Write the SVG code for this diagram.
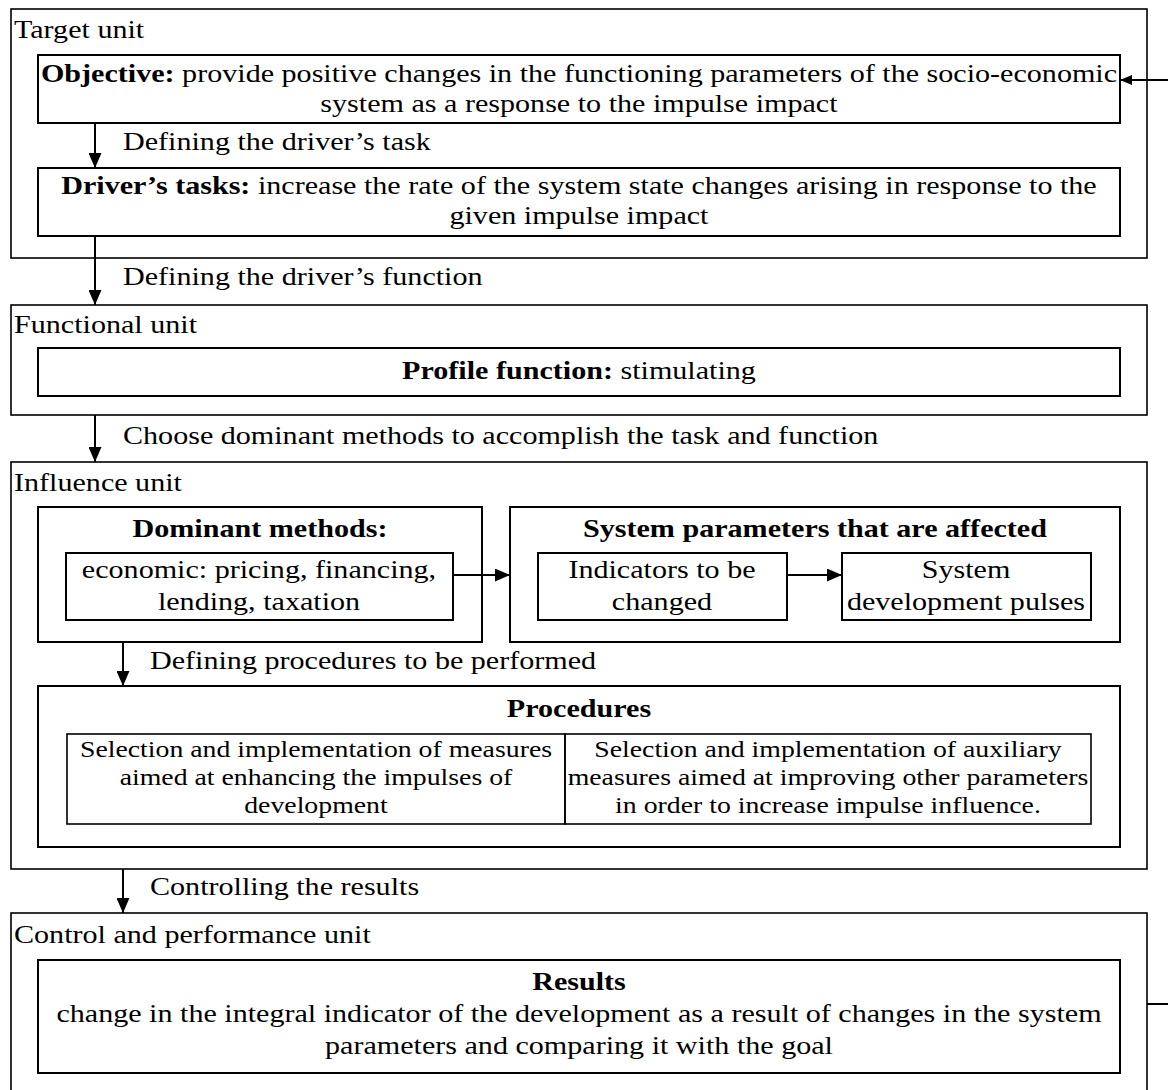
<svg xmlns="http://www.w3.org/2000/svg" width="1168" height="1090" viewBox="0 0 1168 1090">
  <style>
    text { font-family: 'Liberation Serif', 'Times New Roman', serif; font-size: 26px; fill: #000;
           transform-box: fill-box; transform: scaleX(1.158); transform-origin: left center; }
    .b { font-weight: bold; }
    .c { text-anchor: middle; transform-origin: center; }
    .sm { font-size: 24px; }
    .unit { fill: #fff; stroke: #000; stroke-width: 1.6; }
    .box { fill: #fff; stroke: #000; stroke-width: 2; }
    .cell { fill: none; stroke: #000; stroke-width: 1.6; }
    .link { fill: none; stroke: #000; stroke-width: 2; }
  </style>
  <defs>
    <marker id="head" viewBox="0 0 15 13" refX="15" refY="6.5" markerWidth="15" markerHeight="13" markerUnits="userSpaceOnUse" orient="auto">
      <path d="M0,0 L15,6.5 L0,13 z" fill="#000"/>
    </marker>
    <marker id="small" viewBox="0 0 12 10" refX="12" refY="5" markerWidth="12" markerHeight="10" markerUnits="userSpaceOnUse" orient="auto">
      <path d="M0,0 L12,5 L0,10 z" fill="#000"/>
    </marker>
  </defs>
  <rect width="1168" height="1090" fill="#fff"/>

  <!-- Target unit -->
  <g id="target-unit">
    <rect class="unit" x="11" y="9" width="1136" height="249"/>
    <text x="14" y="38">Target unit</text>
  </g>
  <g id="objective">
    <rect class="box" x="38" y="55" width="1082" height="68"/>
    <text class="c" x="579" y="82"><tspan class="b">Objective:</tspan> provide positive changes in the functioning parameters of the socio-economic</text>
    <text class="c" x="579" y="112">system as a response to the impulse impact</text>
  </g>
  <g id="drivers-tasks">
    <rect class="box" x="38" y="168" width="1082" height="68"/>
    <text class="c" x="579" y="194"><tspan class="b">Driver’s tasks:</tspan> increase the rate of the system state changes arising in response to the</text>
    <text class="c" x="579" y="224">given impulse impact</text>
  </g>

  <!-- Functional unit -->
  <g id="functional-unit">
    <rect class="unit" x="11" y="305" width="1136" height="110"/>
    <text x="14" y="333">Functional unit</text>
  </g>
  <g id="profile-function">
    <rect class="box" x="38" y="348" width="1082" height="48"/>
    <text class="c" x="579" y="379"><tspan class="b">Profile function:</tspan> stimulating</text>
  </g>

  <!-- Influence unit -->
  <g id="influence-unit">
    <rect class="unit" x="11" y="462" width="1136" height="407"/>
    <text x="14" y="491">Influence unit</text>
  </g>
  <g id="dominant-methods">
    <rect class="box" x="38" y="507" width="444" height="135"/>
    <text class="c b" x="260" y="537">Dominant methods:</text>
    <rect class="box" x="66" y="553" width="387" height="67"/>
    <text class="c" x="259" y="578">economic: pricing, financing,</text>
    <text class="c" x="259" y="610">lending, taxation</text>
  </g>
  <g id="system-parameters">
    <rect class="box" x="510" y="507" width="610" height="135"/>
    <text class="c b" x="815" y="537">System parameters that are affected</text>
  </g>
  <g id="indicators">
    <rect class="box" x="538" y="553" width="249" height="67"/>
    <text class="c" x="662" y="578">Indicators to be</text>
    <text class="c" x="662" y="610">changed</text>
  </g>
  <g id="development-pulses">
    <rect class="box" x="842" y="553" width="249" height="67"/>
    <text class="c" x="966" y="578">System</text>
    <text class="c" x="966" y="610">development pulses</text>
  </g>
  <g id="procedures">
    <rect class="box" x="38" y="686" width="1082" height="161"/>
    <text class="c b" x="579" y="717">Procedures</text>
    <rect class="cell" x="67" y="734" width="498" height="90"/>
    <rect class="cell" x="565" y="734" width="526" height="90"/>
    <text class="c sm" x="316" y="757">Selection and implementation of measures</text>
    <text class="c sm" x="316" y="785">aimed at enhancing the impulses of</text>
    <text class="c sm" x="316" y="813">development</text>
    <text class="c sm" x="828" y="757">Selection and implementation of auxiliary</text>
    <text class="c sm" x="828" y="785">measures aimed at improving other parameters</text>
    <text class="c sm" x="828" y="813">in order to increase impulse influence.</text>
  </g>

  <!-- Control and performance unit -->
  <g id="control-unit">
    <rect class="unit" x="11" y="913" width="1136" height="190"/>
    <text x="14" y="943">Control and performance unit</text>
  </g>
  <g id="results">
    <rect class="box" x="38" y="960" width="1082" height="113"/>
    <text class="c b" x="579" y="990">Results</text>
    <text class="c" x="579" y="1022">change in the integral indicator of the development as a result of changes in the system</text>
    <text class="c" x="579" y="1054">parameters and comparing it with the goal</text>
  </g>

  <!-- Connectors -->
  <g id="connectors">
    <line class="link" x1="95" y1="123" x2="95" y2="168" marker-end="url(#head)"/>
    <text x="123" y="150">Defining the driver’s task</text>
    <line class="link" x1="95" y1="236" x2="95" y2="305" marker-end="url(#head)"/>
    <text x="123" y="285">Defining the driver’s function</text>
    <line class="link" x1="95" y1="415" x2="95" y2="462" marker-end="url(#head)"/>
    <text x="123" y="444">Choose dominant methods to accomplish the task and function</text>
    <line class="link" x1="453" y1="575" x2="510" y2="575" marker-end="url(#head)"/>
    <line class="link" x1="787" y1="575" x2="842" y2="575" marker-end="url(#head)"/>
    <line class="link" x1="123" y1="642" x2="123" y2="686" marker-end="url(#head)"/>
    <text x="150" y="669">Defining procedures to be performed</text>
    <line class="link" x1="123" y1="869" x2="123" y2="913" marker-end="url(#head)"/>
    <text x="150" y="895">Controlling the results</text>
    <!-- feedback from results back to the objective -->
    <line class="link" x1="1147" y1="1004" x2="1168" y2="1004" stroke-width="1.6"/>
    <line class="link" x1="1168" y1="80" x2="1120" y2="80" marker-end="url(#small)"/>
  </g>
</svg>
